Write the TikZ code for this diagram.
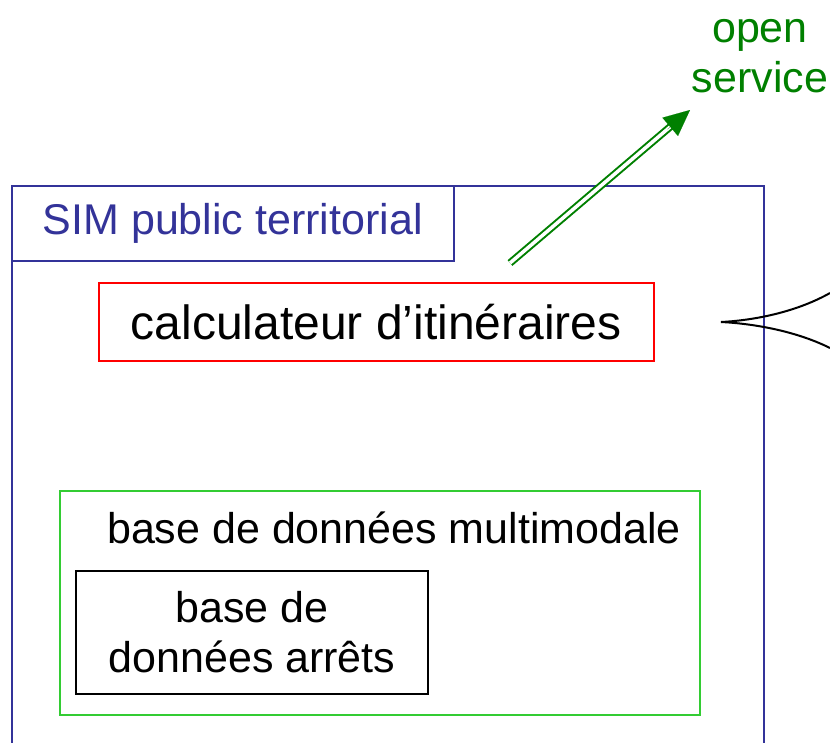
\documentclass[tikz,border=0pt]{standalone}
\usepackage{fontspec}
\setmainfont{Liberation Sans}
\usetikzlibrary{arrows.meta,calc}
\definecolor{simblue}{RGB}{51,51,153}
\definecolor{dkgreen}{RGB}{0,128,0}
\definecolor{ltgreen}{RGB}{51,204,51}
\definecolor{boxred}{RGB}{255,0,0}
\tikzset{
  box/.style={draw, inner sep=0pt, align=center, font=\fontsize{43}{50}\selectfont},
  lbl/.style={inner sep=0pt, align=center, font=\fontsize{43}{50}\selectfont},
}
\begin{document}
\begin{tikzpicture}[x=1pt,y=-1pt]
\clip (0,0) rectangle (830,742);
\fill[white] (0,0) rectangle (830,742);
% outer box
\node[draw=simblue, line width=1.5pt, minimum width=752pt, minimum height=600pt, anchor=north west, inner sep=0pt] (outer) at (11,185) {};
\node[box, draw=simblue, text=simblue, line width=1.5pt, minimum width=442pt, minimum height=75pt, anchor=north west] (title) at (11,185) {SIM public territorial};
% red box
\node[box, draw=boxred, line width=1.5pt, minimum width=555pt, minimum height=78pt, anchor=north west, font=\fontsize{48}{54}\selectfont] (calc) at (98,282) {calculateur d’itinéraires};
% green box
\node[draw=ltgreen, line width=2pt, minimum width=640pt, minimum height=224pt, anchor=north west, inner sep=0pt] (multi) at (59,490) {};
\node[lbl] (multilbl) at (394,528) {base de données multimodale};
% black box
\node[box, draw=black, line width=2pt, minimum width=352pt, minimum height=123pt, anchor=north west] (arrets) at (75,570) {base de\\données arrêts};
% open service
\node[lbl, text=dkgreen] (open) at (760,56) {open\\service};
% arrow
\coordinate (s) at (510,263);
\coordinate (t) at (690,110);
\draw[dkgreen, line width=2pt, double=white, double distance=3.5pt, shorten >=22pt] (s) -- (t);
\draw[dkgreen, line width=0.1pt, -{Triangle[length=26pt,width=24pt]}] ($(t)!30pt!(s)$) -- (t);
% bracket
\coordinate (j) at (721,322);
\coordinate (bu) at (830,293);
\coordinate (bl) at (830,348);
\draw[line width=2pt] (j) .. controls (760,320) and (800,310) .. (bu);
\draw[line width=2pt] (j) .. controls (760,324) and (800,333) .. (bl);
\end{tikzpicture}
\end{document}
